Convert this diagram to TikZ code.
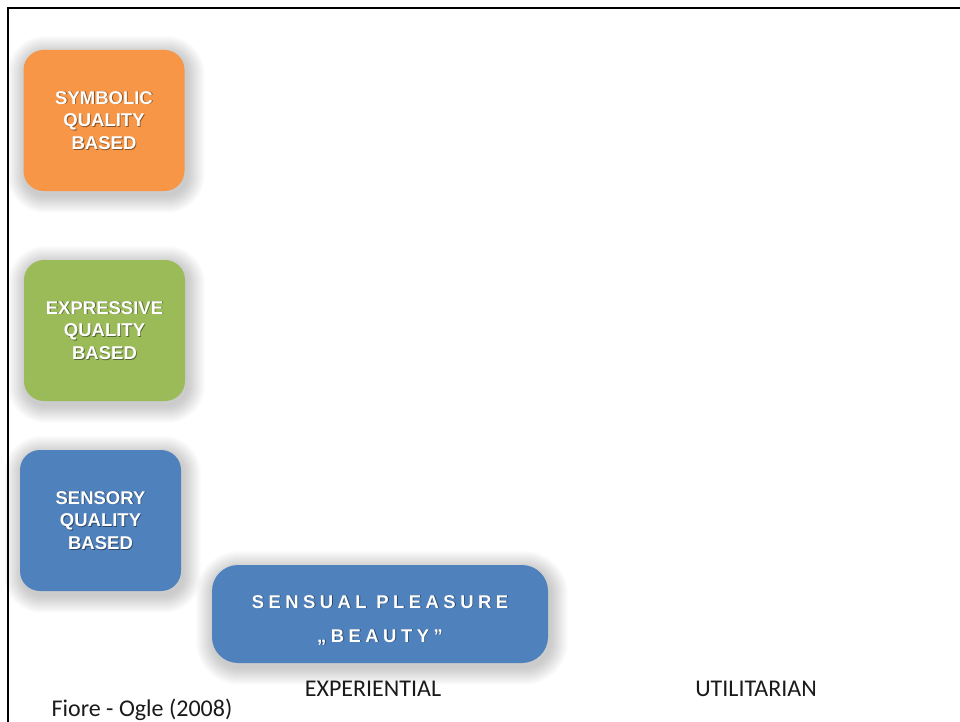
\documentclass[tikz,border=0pt]{standalone}
\usepackage{fontspec}
\setmainfont{Liberation Sans}
\newfontfamily\notefont{Carlito}
\newfontfamily\spacedfont{Liberation Sans}[LetterSpace=24]
\usetikzlibrary{calc,backgrounds}

\definecolor{qorange}{HTML}{F79646}
\definecolor{qgreen}{HTML}{9BBB59}
\definecolor{qblue}{HTML}{4F81BD}
\definecolor{notegray}{HTML}{1A1A1A}

% white lettering with a small dark drop shadow
\newcommand\sh[1]{\leavevmode\rlap{\kern0.9pt\raisebox{-0.9pt}[\height][\depth]{\textcolor{shadowc}{#1}}}#1}

% soft shadow behind a rounded box: node name, corner radius (pt)
\newcommand\softshadow[2]{%
  \begin{scope}[on background layer]
    \foreach \r in {1,...,18}{
      \fill[black, opacity=0.013, rounded corners={(#2+\r)*1pt}]
        ($(#1.south west)+(2-\r,4+\r)$) rectangle ($(#1.north east)+(2+\r,4-\r)$);
    }
  \end{scope}}

\tikzset{
  qualbox/.style={rounded corners=20pt, minimum width=161pt, minimum height=141pt,
    fill=#1, draw=none, text=white, align=center,
    font=\bfseries\fontsize{18.5}{22.8}\selectfont,
    execute at begin node={\colorlet{shadowc}{#1!55!black}}},
  widebox/.style={rounded corners=26pt, minimum width=336pt, minimum height=98pt,
    fill=qblue, draw=none},
  widetext/.style={text=white, align=center,
    font=\spacedfont\bfseries\fontsize{18.5}{34}\selectfont,
    execute at begin node={\colorlet{shadowc}{qblue!55!black}}},
  axislabel/.style={text=notegray, font=\notefont\fontsize{24}{28}\selectfont},
}

\begin{document}
\begin{tikzpicture}[x=1pt, y=-1pt]
  \useasboundingbox (0,0) rectangle (960,722);

  % frame
  \draw[line width=2.6pt] (8,723) -- (8,8) -- (961,8);

  % quality boxes
  \node[qualbox=qorange] (symbolic) at (104,120.5) {\sh{SYMBOLIC}\\\sh{QUALITY}\\\sh{BASED}};
  \node[qualbox=qgreen] (expressive) at (104.5,330.5) {\sh{EXPRESSIVE}\\\sh{QUALITY}\\\sh{BASED}};
  \node[qualbox=qblue] (sensory) at (100.5,520.5) {\sh{SENSORY}\\\sh{QUALITY}\\\sh{BASED}};

  % sensual pleasure box
  \node[widebox] (pleasure) at (380,614) {};
  \node[widetext] (pleasuretext) at (380,620) {\sh{SENSUAL PLEASURE}\\\sh{„BEAUTY”}};

  % shadows, drawn under the boxes
  \softshadow{symbolic}{20}
  \softshadow{expressive}{20}
  \softshadow{sensory}{20}
  \softshadow{pleasure}{26}

  % labels
  \node[axislabel] (experiential) at (373,689) {EXPERIENTIAL};
  \node[axislabel] (utilitarian) at (756,689) {UTILITARIAN};
  \node[axislabel] (source) at (142,710) {Fiore - Ogle (2008)};
\end{tikzpicture}
\end{document}
